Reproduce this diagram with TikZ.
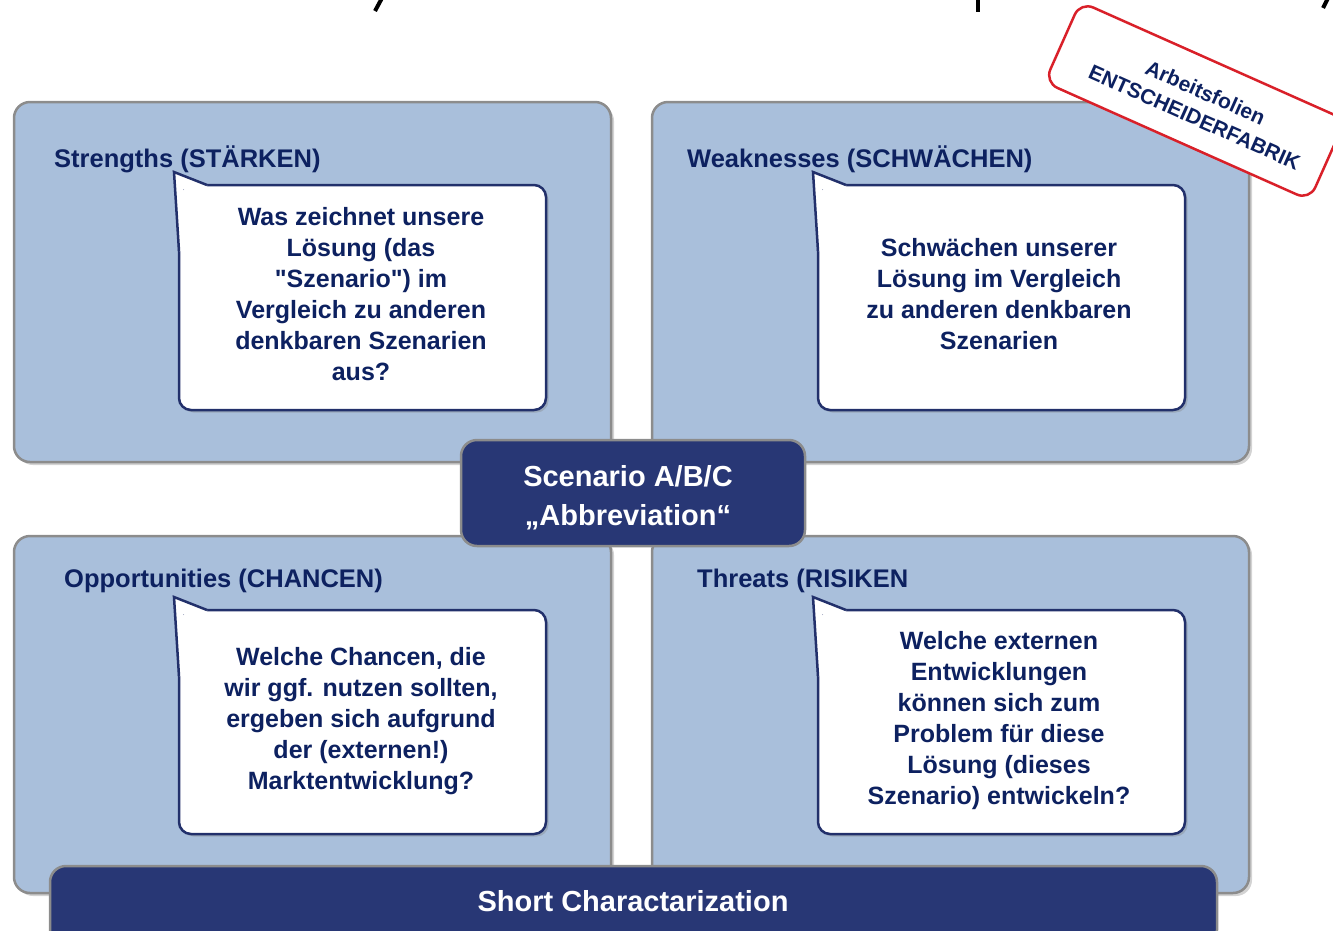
\documentclass[tikz,border=0pt]{standalone}
\usepackage{fontspec}
\setmainfont{Liberation Sans}[Ligatures=TeXOff]
\usetikzlibrary{shadows,calc}
\definecolor{panelfill}{HTML}{A9BFDB}
\definecolor{panelline}{HTML}{8C8C8C}
\definecolor{navytext}{HTML}{0D2160}
\definecolor{navybox}{HTML}{283775}
\definecolor{callline}{HTML}{22306B}
\definecolor{stampred}{HTML}{D92029}
\newcommand\calltail[1]{%
  \fill[white] ($(#1.north west)+(-5,-13)$) -- ($(#1.north west)+(28,0)$) -- ($(#1.north west)+(28,4)$) -- ($(#1.north west)+(4,4)$) -- ($(#1.north west)+(4,66)$) -- ($(#1.north west)+(0,66)$) -- cycle;
  \draw[callline, line width=2.5pt, line join=miter] ($(#1.north west)+(0,66)$) -- ($(#1.north west)+(-5,-13)$) -- ($(#1.north west)+(28,0)$);}
\begin{document}
\begin{tikzpicture}[x=1pt,y=-1pt,
  panel/.style={draw=panelline, line width=2.5pt, fill=panelfill, rounded corners=16pt, inner sep=0pt, outer sep=0pt, anchor=north west,
    minimum width=597, minimum height=360,
    drop shadow={shadow xshift=3pt, shadow yshift=-3pt, opacity=0.35}},
  callbox/.style={draw=callline, line width=2.5pt, fill=white, rounded corners=12pt, inner sep=0pt, outer sep=0pt, anchor=north west,
    minimum width=367, minimum height=225,
    drop shadow={shadow xshift=2.5pt, shadow yshift=-2.5pt, opacity=0.35}},
  calltext/.style={inner sep=0pt, align=center, text=navytext, font=\fontsize{25}{31}\selectfont\bfseries},
  heading/.style={anchor=base west, inner sep=0pt, text=navytext, font=\fontsize{25.5}{30}\selectfont\bfseries},
  darkbox/.style={draw=panelline, line width=2.5pt, fill=navybox, rounded corners=16pt, inner sep=0pt, outer sep=0pt, anchor=north west},
  darktext/.style={inner sep=0pt, text=white, align=center, font=\fontsize{29}{39}\selectfont\bfseries},
  stamp/.style={draw=stampred, line width=2.5pt, fill=white, rounded corners=14pt, minimum width=290, minimum height=88,
    inner sep=0pt, rotate=-24},
  stamptext/.style={inner sep=0pt, rotate=-24, align=center, text=navytext, font=\fontsize{21}{27}\selectfont\bfseries},
  frag/.style={line width=4pt, black}
]
\useasboundingbox (0,0) rectangle (1333,930);
\clip (0,0) rectangle (1333,930);
% title fragments
\coordinate (f1a) at (382,-2); \coordinate (f1b) at (375,11);
\coordinate (f2a) at (978,-2); \coordinate (f2b) at (978,12);
\coordinate (f3a) at (1328,-2); \coordinate (f3b) at (1323,8);
\draw[frag] (f1a) -- (f1b);
\draw[frag] (f2a) -- (f2b);
\draw[frag] (f3a) -- (f3b);
% panels
\node[panel] (ptl) at (14,102) {};
\node[panel] (ptr) at (652,102) {};
\node[panel, minimum height=357] (pbl) at (14,536) {};
\node[panel, minimum height=357] (pbr) at (652,536) {};
% headings
\node[heading] (hs) at (54,167) {Strengths (STÄRKEN)};
\node[heading] (hw) at (687,167) {Weaknesses (SCHWÄCHEN)};
\node[heading] (ho) at (64,587) {Opportunities (CHANCEN)};
\node[heading] (ht) at (697,587) {Threats (RISIKEN};
% callouts
\node[callbox] (cs) at (179,185) {};
\calltail{cs}
\node[calltext] (ts) at (361,294) {Was zeichnet unsere\\Lösung (das\\"Szenario") im\\Vergleich zu anderen\\denkbaren Szenarien\\aus?};
\node[callbox] (cw) at (818,185) {};
\calltail{cw}
\node[calltext] (tw) at (999,294) {Schwächen unserer\\Lösung im Vergleich\\zu anderen denkbaren\\Szenarien};
\node[callbox, minimum height=224] (co) at (179,610) {};
\calltail{co}
\node[calltext] (to) at (361,721) {Welche Chancen, die\\wir ggf. nutzen sollten,\\ergeben sich aufgrund\\der (externen!)\\Marktentwicklung?};
\node[callbox, minimum height=224] (ct) at (818,610) {};
\calltail{ct}
\node[calltext] (tt) at (999,721) {Welche externen\\Entwicklungen\\können sich zum\\Problem für diese\\Lösung (dieses\\Szenario) entwickeln?};
% center box
\node[darkbox, minimum width=344, minimum height=106] (sc) at (461,440) {};
\node[darktext] (sct) at (628,498) {Scenario A/B/C\\„Abbreviation“};
% bottom bar
\node[darkbox, minimum width=1167, minimum height=80] (bar) at (50,866) {};
\node[darktext] (bt) at (633,901) {Short Charactarization};
% stamp
\node[stamp] (st) at (1195,101) {};
\node[stamptext] (stt) at (1200,105) {Arbeitsfolien\\ENTSCHEIDERFABRIK};
\end{tikzpicture}
\end{document}
